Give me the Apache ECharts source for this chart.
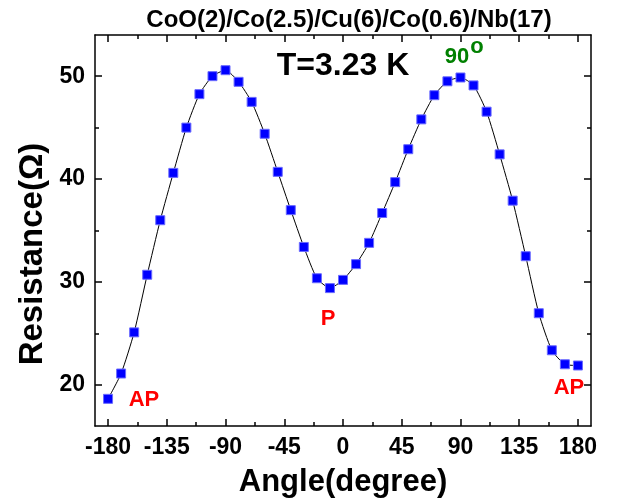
<!DOCTYPE html>
<html>
<head>
<meta charset="utf-8">
<style>
    body {
        margin: 0;
        background: #fff;
    }
    #myChart {
        width: 618px;
        height: 500px;
    }
</style>
<script src="https://cdn.jsdelivr.net/npm/echarts@6/dist/echarts.min.js"></script>
</head>
<body>

<div id="myChart"></div>

<script>

    // 角度 (degree)
    var angles = [-180, -170, -160, -150, -140, -130, -120, -110, -100, -90, -80, -70, -60, -50, -40, -30, -20, -10,
                  0, 10, 20, 30, 40, 50, 60, 70, 80, 90, 100, 110, 120, 130, 140, 150, 160, 170, 180]

    // 电阻 (Ω)
    var resistance = [18.64, 21.1, 25.1, 30.7, 36.0, 40.6, 45.0, 48.25, 50.0, 50.58, 49.45, 47.5, 44.4, 40.7, 36.98, 33.4, 30.36, 29.4,
                      30.2, 31.73, 33.8, 36.7, 39.7, 42.9, 45.8, 48.15, 49.5, 49.87, 49.1, 46.55, 42.4, 37.9, 32.5, 26.96, 23.36, 22.0, 21.88]

    var xMajor = [-180, -135, -90, -45, 0, 45, 90, 135, 180]
    var xMinor = [-157.5, -112.5, -67.5, -22.5, 22.5, 67.5, 112.5, 157.5]
    var yMajor = [20, 30, 40, 50]
    var yMinor = [25, 35, 45]

    var font = '"Liberation Sans", Arial, sans-serif'
    var lineStyle = { color: '#000', width: 1.5 }

    function xAxis (pos, ticks, len, show, labels) {
        return {
            type: 'value',
            position: pos,
            min: -190,
            max: 190,
            splitLine: { show: false },
            axisLine: { show: show, onZero: false, lineStyle: lineStyle },
            axisTick: { inside: true, length: len, customValues: ticks, lineStyle: lineStyle },
            axisLabel: labels ? {
                customValues: ticks,
                color: '#000',
                fontFamily: font,
                fontWeight: 'bold',
                fontSize: 23,
                margin: 10
            } : { show: false }
        }
    }

    function yAxis (pos, ticks, len, show, labels) {
        return {
            type: 'value',
            position: pos,
            min: 16,
            max: 54,
            splitLine: { show: false },
            axisLine: { show: show, onZero: false, lineStyle: lineStyle },
            axisTick: { inside: true, length: len, customValues: ticks, lineStyle: lineStyle },
            axisLabel: labels ? {
                customValues: ticks,
                color: '#000',
                fontFamily: font,
                fontWeight: 'bold',
                fontSize: 23,
                margin: 10
            } : { show: false }
        }
    }

    var myChart = echarts.init(document.getElementById('myChart'))

    myChart.setOption({
        animation: false,
        title: {
            text: 'CoO(2)/Co(2.5)/Cu(6)/Co(0.6)/Nb(17)',
            left: 344,
            top: 3,
            textAlign: 'center',
            textStyle: {
                color: '#000',
                fontFamily: font,
                fontWeight: 'bold',
                fontSize: 24
            }
        },
        grid: {
            left: 95,
            right: 27,
            top: 35,
            bottom: 74,
            outerBoundsMode: 'none'
        },
        xAxis: [
            Object.assign(xAxis('bottom', xMajor, 7, true, true), {
                name: 'Angle(degree)',
                nameLocation: 'middle',
                nameGap: 41,
                nameMoveOverlap: false,
                nameTextStyle: { color: '#000', fontFamily: font, fontWeight: 'bold', fontSize: 31 }
            }),
            xAxis('bottom', xMinor, 4, false, false),
            xAxis('top', xMajor, 7, true, false),
            xAxis('top', xMinor, 4, false, false)
        ],
        yAxis: [
            yAxis('left', yMajor, 7, true, true),
            yAxis('left', yMinor, 4, false, false),
            yAxis('right', yMajor, 7, true, false),
            yAxis('right', yMinor, 4, false, false)
        ],
        graphic: [
            {
                type: 'text', x: 33, y: 254, rotation: Math.PI / 2,
                style: { text: 'Resistance(Ω)', fill: '#000', font: 'bold 33px ' + font, textAlign: 'center', textVerticalAlign: 'middle' }
            },
            {
                type: 'text', x: 343, y: 66,
                style: { text: 'T=3.23 K', fill: '#000', font: 'bold 32px ' + font, textAlign: 'center', textVerticalAlign: 'middle' }
            },
            {
                type: 'text', x: 457, y: 57,
                style: { text: '90', fill: '#008000', font: 'bold 22px ' + font, textAlign: 'center', textVerticalAlign: 'middle' }
            },
            {
                type: 'text', x: 477, y: 47,
                style: { text: 'o', fill: '#008000', font: 'bold 22px ' + font, textAlign: 'center', textVerticalAlign: 'middle' }
            },
            {
                type: 'text', x: 328, y: 319,
                style: { text: 'P', fill: '#ff0000', font: 'bold 22px ' + font, textAlign: 'center', textVerticalAlign: 'middle' }
            },
            {
                type: 'text', x: 144, y: 400,
                style: { text: 'AP', fill: '#ff0000', font: 'bold 22px ' + font, textAlign: 'center', textVerticalAlign: 'middle' }
            },
            {
                type: 'text', x: 569, y: 388,
                style: { text: 'AP', fill: '#ff0000', font: 'bold 22px ' + font, textAlign: 'center', textVerticalAlign: 'middle' }
            }
        ],
        series: [
            {
                type: 'line',
                xAxisIndex: 0,
                yAxisIndex: 0,
                data: angles.map(function (a, i) { return [a, resistance[i]] }),
                smooth: 0.2,
                symbol: 'rect',
                symbolSize: 9,
                lineStyle: { color: '#000', width: 1 },
                itemStyle: { color: '#0000ff', borderColor: '#6a6aff', borderWidth: 1 },
                z: 3
            }
        ]
    })

</script>

</body>
</html>
